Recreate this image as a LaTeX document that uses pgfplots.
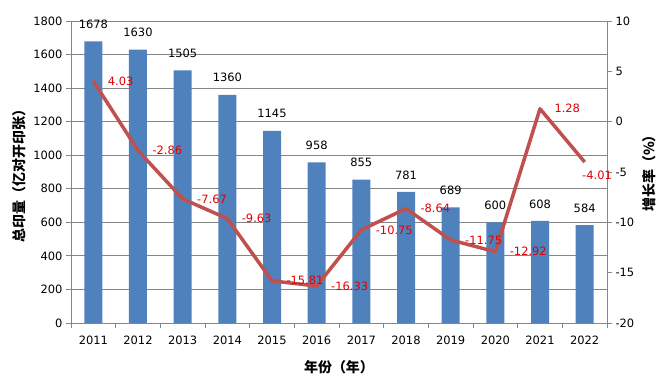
\documentclass[border=0pt]{standalone}
\usepackage{pgfplots}
\pgfplotsset{compat=1.18}
\usepackage{fontspec}
\setmainfont{DejaVu Sans}
\newfontfamily\cjk{Noto Sans CJK SC}
\definecolor{barblue}{HTML}{4F81BD}
\definecolor{linered}{HTML}{C0504D}
\definecolor{gridgray}{HTML}{868686}
\definecolor{lblred}{HTML}{E00000}
\newcommand{\numfont}{\fontsize{11.5}{13}\selectfont}
\newcommand{\titlefont}{\cjk\bfseries\fontsize{14}{16}\selectfont}
\begin{document}
\begin{tikzpicture}
\pgfplotsset{
  base/.style={
    scale only axis, width=536bp, height=302bp,
    at={(0,0)}, anchor=south west,
    xmin=-0.5, xmax=11.5,
    /pgf/number format/assume math mode=true,
    /pgf/number format/1000 sep={},
    tick label style={font=\numfont, color=black},
    tick align=outside,
    major tick length=5bp, minor tick length=5bp,
    axis line style={gridgray, line width=0.8bp},
    tick style={gridgray, line width=0.8bp},
    label style={font=\titlefont, color=black},
  }
}
\begin{axis}[base,
  ymin=0, ymax=1800, ytick={0,200,...,1800},
  axis y line*=left, axis x line*=bottom,
  ymajorgrids, grid style={gridgray, line width=0.8bp},
  xtick={0,...,11},
  xticklabels={2011,2012,2013,2014,2015,2016,2017,2018,2019,2020,2021,2022},
  major x tick style={draw=none},
  minor xtick={-0.5,0.5,...,11.5},
  x tick label style={yshift=-4bp},
  ybar, bar width=18bp,
  nodes near coords,
  nodes near coords style={font=\numfont, color=black, anchor=center, yshift=17bp},
  xlabel={年份（年）},
  xlabel style={at={(axis description cs:0.5,0)}, anchor=center, yshift=-44bp},
  ylabel={总印量（亿对开印张）},
  ylabel style={at={(axis description cs:-0.096,0.498)}, anchor=center},
]
\addplot[fill=barblue, draw=none] coordinates {
(0,1678) (1,1630) (2,1505) (3,1360) (4,1145) (5,958)
(6,855) (7,781) (8,689) (9,600) (10,608) (11,584)};
\end{axis}
\begin{axis}[base,
  ymin=-20, ymax=10, ytick={-20,-15,...,10},
  axis y line*=right, axis x line=none,
  ylabel={增长率（\%）},
  ylabel style={at={(axis description cs:1.0784,0.507)}, anchor=center},
]
\addplot[linered, line width=3.5bp, line join=round, mark=none] coordinates {
(0,4.03) (1,-2.86) (2,-7.67) (3,-9.63) (4,-15.81) (5,-16.33)
(6,-10.75) (7,-8.64) (8,-11.75) (9,-12.92) (10,1.28) (11,-4.01)};
\addplot[draw=none, point meta=y,
  nodes near coords={\pgfmathprintnumber[fixed,fixed zerofill,precision=2]{\pgfplotspointmeta}},
  nodes near coords style={font=\numfont, color=lblred, anchor=west, xshift=11bp}]
  coordinates {
(0,4.03) (1,-2.86) (2,-7.67) (3,-9.63) (4,-15.81) (5,-16.33)
(6,-10.75) (7,-8.64) (8,-11.75) (9,-12.92) (10,1.28)};
\addplot[draw=none, point meta=y,
  nodes near coords={\pgfmathprintnumber[fixed,fixed zerofill,precision=2]{\pgfplotspointmeta}},
  nodes near coords style={font=\numfont, color=lblred, anchor=west, xshift=-6bp, yshift=-13bp}]
  coordinates {(11,-4.01)};
\end{axis}
\pgfresetboundingbox
\path[use as bounding box] (-71bp,-55bp) rectangle (598bp,323bp);
\end{tikzpicture}
\end{document}
